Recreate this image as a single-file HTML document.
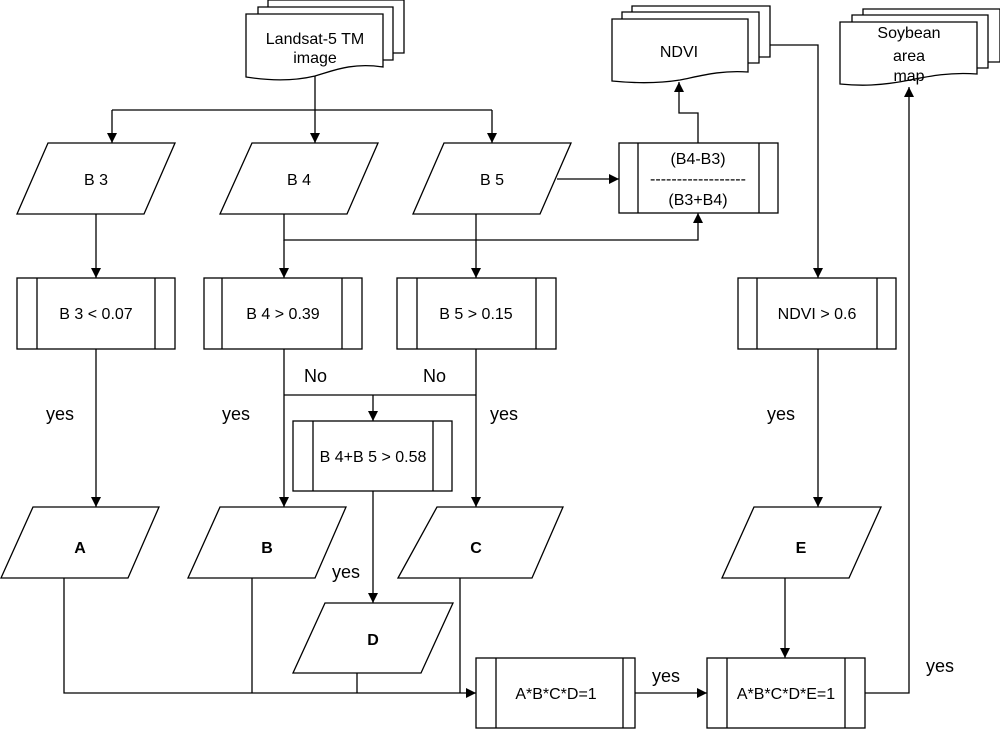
<!DOCTYPE html>
<html><head><meta charset="utf-8"><style>
html,body{margin:0;padding:0;background:#fff;}
svg{display:block;}
text{font-family:"Liberation Sans",Arial,sans-serif;font-size:16px;fill:#000;}
</style></head><body>
<svg width="1000" height="730" viewBox="0 0 1000 730" xmlns="http://www.w3.org/2000/svg">
<defs>
<marker id="a" viewBox="0 0 10 10" refX="10" refY="5" markerWidth="10" markerHeight="10" markerUnits="userSpaceOnUse" orient="auto">
<path d="M0,0 L10,5 L0,10 z" fill="#000"/></marker>
</defs>
<g fill="#fff" stroke="#000" stroke-width="1.3">
<!-- Landsat doc stack -->
<path d="M268,0 H404 V53 H268 Z"/>
<path d="M258,7 H393 V60 H258 Z"/>
<path d="M246,14 H383 V67 C350,62 330,72 315,76 C290,82 265,80 246,77 Z"/>
<!-- NDVI doc stack -->
<path d="M632,6 H770 V57 H632 Z"/>
<path d="M622,12 H759 V63 H622 Z"/>
<path d="M612,19 H748 V72 C720,70 700,76 680,80 C655,84 632,83 612,81 Z"/>
<!-- Soybean doc stack -->
<path d="M863,9 H1000 V62 H863 Z"/>
<path d="M852,15 H988 V68 H852 Z"/>
<path d="M840,22 H977 V74 C950,72 930,76 910,80 C880,86 860,86 840,84 Z"/>
<!-- parallelograms -->
<path d="M48,143 H175 L144,214 H17 Z"/>
<path d="M252,143 H378 L347,214 H220 Z"/>
<path d="M444,143 H571 L540,214 H413 Z"/>
<path d="M33,507 H159 L128,578 H1 Z"/>
<path d="M220,507 H346 L315,578 H188 Z"/>
<path d="M437,507 H563 L532,578 H398 Z"/>
<path d="M754,507 H881 L849,578 H722 Z"/>
<path d="M325,603 H453 L421,673 H293 Z"/>
<!-- process boxes -->
<rect x="619" y="143" width="159" height="70"/><path d="M638,143 V213 M759,143 V213"/>
<rect x="17" y="278" width="158" height="71"/><path d="M37,278 V349 M155,278 V349"/>
<rect x="204" y="278" width="158" height="71"/><path d="M222,278 V349 M342,278 V349"/>
<rect x="397" y="278" width="159" height="71"/><path d="M417,278 V349 M536,278 V349"/>
<rect x="738" y="278" width="158" height="71"/><path d="M757,278 V349 M877,278 V349"/>
<rect x="293" y="421" width="159" height="70"/><path d="M313,421 V491 M433,421 V491"/>
<rect x="476" y="658" width="159" height="70"/><path d="M496,658 V728 M623,658 V728"/>
<rect x="707" y="658" width="158" height="70"/><path d="M727,658 V728 M845,658 V728"/>
</g>
<g fill="none" stroke="#000" stroke-width="1.3">
<path d="M315,76 V110"/>
<path d="M112,110 H492"/>
<path d="M112,110 V143" marker-end="url(#a)"/>
<path d="M315,110 V143" marker-end="url(#a)"/>
<path d="M492,110 V143" marker-end="url(#a)"/>
<path d="M557,179 H619" marker-end="url(#a)"/>
<path d="M284,214 V240 H698 V213" marker-end="url(#a)"/>
<path d="M698,143 V113 H679 V82" marker-end="url(#a)"/>
<path d="M770,45 H818 V278" marker-end="url(#a)"/>
<path d="M96,214 V278" marker-end="url(#a)"/>
<path d="M284,240 V278" marker-end="url(#a)"/>
<path d="M476,214 V278" marker-end="url(#a)"/>
<path d="M96,349 V507" marker-end="url(#a)"/>
<path d="M284,349 V507" marker-end="url(#a)"/>
<path d="M476,349 V507" marker-end="url(#a)"/>
<path d="M284,395 H476"/>
<path d="M373,395 V421" marker-end="url(#a)"/>
<path d="M373,491 V603" marker-end="url(#a)"/>
<path d="M818,349 V507" marker-end="url(#a)"/>
<path d="M785,578 V658" marker-end="url(#a)"/>
<path d="M64,578 V693 H476" marker-end="url(#a)"/>
<path d="M252,578 V693"/>
<path d="M357,673 V693"/>
<path d="M460,578 V693"/>
<path d="M635,693 H707" marker-end="url(#a)"/>
<path d="M865,693 H909 V87" marker-end="url(#a)"/>
</g>
<g text-anchor="middle">
<text x="315" y="44">Landsat-5 TM</text>
<text x="315" y="63">image</text>
<text x="679" y="57">NDVI</text>
<text x="909" y="38">Soybean</text>
<text x="909" y="61">area</text>
<text x="909" y="81">map</text>
<text x="96" y="185">B 3</text>
<text x="299" y="185">B 4</text>
<text x="492" y="185">B 5</text>
<text x="698" y="164">(B4-B3)</text>
<text x="698" y="184">------------------</text>
<text x="698" y="205">(B3+B4)</text>
<text x="96" y="319">B 3 &lt; 0.07</text>
<text x="283" y="319">B 4 &gt; 0.39</text>
<text x="476" y="319">B 5 &gt; 0.15</text>
<text x="817" y="319">NDVI &gt; 0.6</text>
<text x="373" y="462">B 4+B 5 &gt; 0.58</text>
<text x="80" y="553" font-weight="bold">A</text>
<text x="267" y="553" font-weight="bold">B</text>
<text x="476" y="553" font-weight="bold">C</text>
<text x="801" y="553" font-weight="bold">E</text>
<text x="373" y="645" font-weight="bold">D</text>
<text x="556" y="699">A*B*C*D=1</text>
<text x="786" y="699">A*B*C*D*E=1</text>
</g>
<g font-size="18">
<text x="304" y="382" style="font-size:18px">No</text>
<text x="423" y="382" style="font-size:18px">No</text>
<text x="46" y="420" style="font-size:18px">yes</text>
<text x="222" y="420" style="font-size:18px">yes</text>
<text x="490" y="420" style="font-size:18px">yes</text>
<text x="767" y="420" style="font-size:18px">yes</text>
<text x="332" y="578" style="font-size:18px">yes</text>
<text x="652" y="682" style="font-size:18px">yes</text>
<text x="926" y="672" style="font-size:18px">yes</text>
</g>
</svg>
</body></html>
